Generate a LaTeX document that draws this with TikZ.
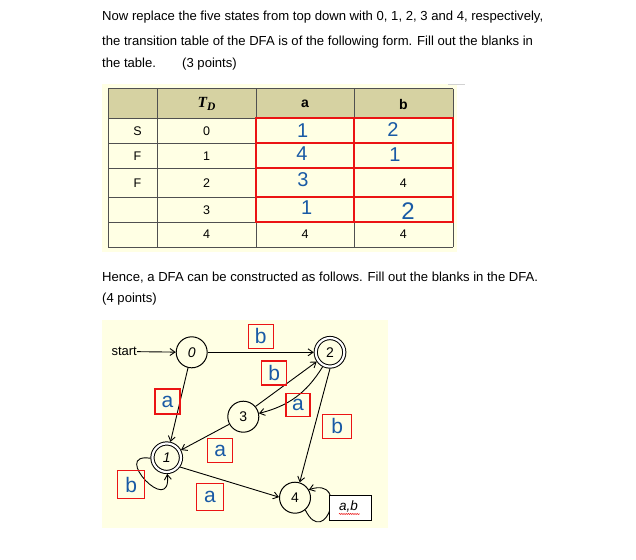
\documentclass[tikz,border=0pt]{standalone}
\usepackage{fontspec}
\setmainfont{Liberation Sans}
\newfontfamily\tnr{Liberation Serif}
\usetikzlibrary{arrows.meta,decorations.pathmorphing}
\definecolor{cream}{RGB}{255,255,228}
\definecolor{khaki}{RGB}{214,210,162}
\definecolor{pen}{RGB}{25,90,165}
\definecolor{gridc}{RGB}{80,80,80}
\definecolor{redbox}{RGB}{235,20,20}
\begin{document}
\begin{tikzpicture}[x=1pt,y=-1pt,
  para/.style={anchor=base west, inner sep=0, font=\fontsize{13.1}{15}\selectfont},
  cell/.style={inner sep=0, font=\fontsize{12.5}{14}\selectfont},
  head/.style={inner sep=0, font=\fontsize{14}{15}\selectfont\bfseries},
  hand/.style={inner sep=0, text=pen, font=\fontsize{20}{20}\selectfont},
  state/.style={circle, draw, line width=1pt, minimum size=31pt, inner sep=0, font=\fontsize{14}{14}\selectfont},
  acc/.style={state, double, double distance=2.2pt, minimum size=28.5pt, outer sep=2pt},
  arr/.style={-{Straight Barb[length=5pt,width=7pt]}, line width=0.9pt},
  lbl/.style={draw=redbox, line width=1.2pt, inner sep=0, text=pen, font=\fontsize{21}{21}\selectfont},
  redgrid/.style={draw=redbox, line width=1.3pt}
]
\useasboundingbox (0,0) rectangle (636,559);
\fill[white] (0,0) rectangle (636,559);

% ---------- first paragraph ----------
\node[para] (p1) at (102,20.7) {Now replace the five states from top down with 0, 1, 2, 3 and 4, respectively,};
\node[para] (p2) at (102,45.3) {the transition table of the DFA is of the following form. Fill out the blanks in};
\node[para] (p3) at (102,68) {the table.};
\node[para] (p4) at (182,68) {(3 points)};

% ---------- table ----------
\fill[cream] (102,84) rectangle (457,252);
\fill[khaki] (108,89) rectangle (453,118);
\draw[gray!35, line width=0.8pt] (448,84) -- (465,84);
\foreach \yy in {89,118,143,168,197,222,247}
  \draw[gridc, line width=1pt] (108,\yy) -- (453,\yy);
\foreach \xx in {108,157,256,354,453}
  \draw[gridc, line width=1pt] (\xx,89) -- (\xx,247);
\foreach \ya/\yb in {118/143,143/168,168/197,197/222}{
  \draw[redgrid] (256,\ya) rectangle (354,\yb);
  \draw[redgrid] (354,\ya) rectangle (453,\yb);
}

\node[inner sep=0] (td) at (206.5,104) {{\tnr\fontsize{15.5}{15}\selectfont\bfseries\itshape T\raisebox{-3.5pt}{\fontsize{11.5}{11}\selectfont D}}};
\node[head] (ha) at (305,104) {a};
\node[head] (hb) at (403.5,104) {b};

\node[cell] (s0) at (137.5,130.7) {S};
\node[cell] (s1) at (137.5,155.7) {F};
\node[cell] (s2) at (137.5,182.7) {F};
\node[cell] (d0) at (206.5,130.7) {0};
\node[cell] (d1) at (206.5,155.7) {1};
\node[cell] (d2) at (206.5,182.7) {2};
\node[cell] (d3) at (206.5,209.7) {3};
\node[cell] (d4) at (206.5,234.5) {4};
\node[cell] (b2) at (403.3,182.7) {4};
\node[cell] (a4) at (305,234.5) {4};
\node[cell] (b4) at (403.3,234.5) {4};

\node[hand] (ha0) at (302.7,131) {1};
\node[hand] (hb0) at (393,130) {2};
\node[hand] (ha1) at (302,154) {4};
\node[hand] (hb1) at (395,155) {1};
\node[hand] (ha2) at (303,180) {3};
\node[hand] (ha3) at (306.7,208) {1};
\node[hand, font=\fontsize{24}{24}\selectfont] (hb3) at (408,211) {2};

% ---------- second paragraph ----------
\node[para] (q1) at (102,281) {Hence, a DFA can be constructed as follows. Fill out the blanks in the DFA.};
\node[para] (q2) at (102,302.5) {(4 points)};

% ---------- DFA ----------
\fill[cream] (102,320) rectangle (388,528);

\node[state, font=\fontsize{14}{14}\selectfont\itshape] (n0) at (191.7,352.3) {0};
\node[acc] (n2) at (330,352.3) {2};
\node[state] (n3) at (243.3,416.7) {3};
\node[acc, font=\fontsize{14}{14}\selectfont\itshape] (n1) at (166.7,457.7) {1};
\node[state] (n4) at (295,497.7) {4};
\node[anchor=east, inner sep=0, font=\fontsize{13}{14}\selectfont] (start) at (137,351.5) {start};

\draw[arr] (start) -- (n0);
\draw[arr] (n0) -- (n2);
\draw[arr] (n0) -- (n1);
\draw[arr] (n3.40) -- (n2.-145);
\draw[arr] (n2.-117) to[bend left=22] (n3.12);
\draw[arr] (n3) -- (n1);
\draw[arr] (n2.-90) -- (n4.73);
\draw[arr] (n1.-35) -- (n4.178);
\draw[arr] (n1.182) .. controls (110,452) and (172,518) .. (n1.-88);
\draw[arr] (n4.-50) .. controls (325,550) and (350,476) .. (n4.30);

\node[draw, fill=white, line width=1pt, minimum width=41.7pt, minimum height=25pt, inner sep=0] (abbox) at (350.8,507.5) {};
\node[inner sep=0, font=\fontsize{13.5}{13}\selectfont\itshape] (abtxt) at (348.5,506) {a,b};
\draw[redbox, line width=0.5pt, decorate, decoration={snake, amplitude=0.6pt, segment length=2.2pt}] (abtxt.south west) ++(0,2) -- ++(21,0);

\node[lbl, minimum width=25pt, minimum height=24pt] (l1) at (260.8,336.3) {b};
\node[lbl, minimum width=25pt, minimum height=24pt] (l2) at (274.2,373) {b};
\node[lbl, minimum width=24pt, minimum height=23pt] (l3) at (298,405) {a};
\node[lbl, minimum width=29pt, minimum height=24pt] (l4) at (337.2,426.2) {b};
\node[lbl, minimum width=25pt, minimum height=25pt] (l5) at (167.5,401.5) {a};
\node[lbl, minimum width=25pt, minimum height=24pt] (l6) at (220.2,450.5) {a};
\node[lbl, minimum width=27pt, minimum height=28pt] (l7) at (131.3,484.8) {b};
\node[lbl, minimum width=27pt, minimum height=27pt] (l8) at (210,496.7) {a};
\end{tikzpicture}
\end{document}
